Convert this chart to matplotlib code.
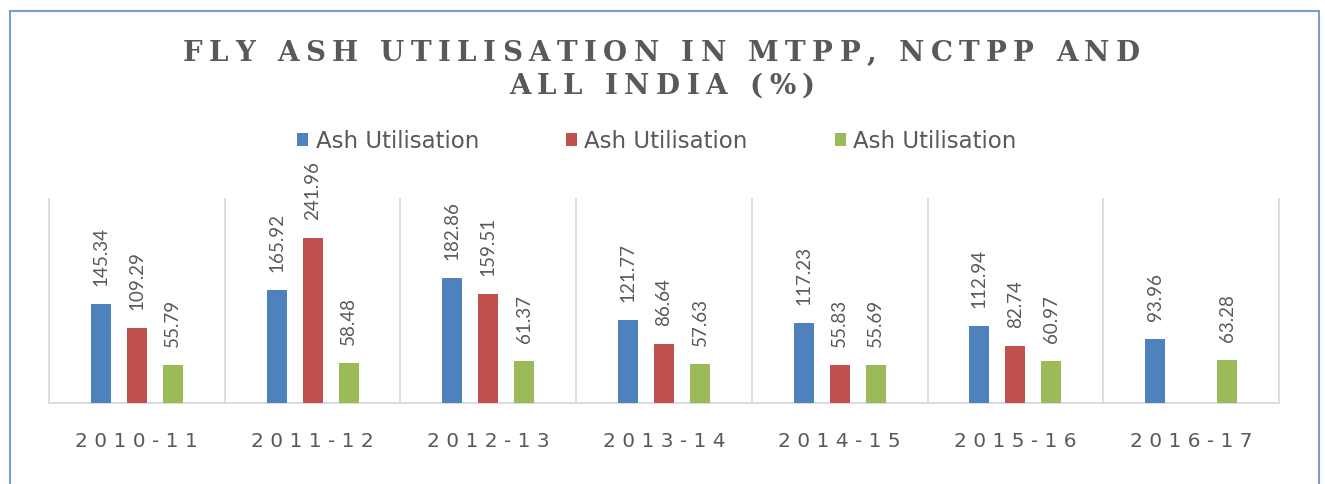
import numpy as np
import matplotlib
matplotlib.use('Agg')
import matplotlib.pyplot as plt
from matplotlib.patches import Rectangle
from matplotlib.font_manager import FontProperties, findfont
from matplotlib.ft2font import FT2Font

categories = ['2010-11', '2011-12', '2012-13', '2013-14', '2014-15', '2015-16', '2016-17']
mtpp = [145.34, 165.92, 182.86, 121.77, 117.23, 112.94, 93.96]
nctpp = [109.29, 241.96, 159.51, 86.64, 55.83, 82.74, np.nan]
all_india = [55.79, 58.48, 61.37, 57.63, 55.69, 60.97, 63.28]
series_labels = ['Ash Utilisation', 'Ash Utilisation', 'Ash Utilisation']
title_lines = ['FLY ASH UTILISATION IN MTPP, NCTPP AND', 'ALL INDIA (%)']
colors = ['#4F81BD', '#C0504D', '#9BBB59']

W, H = 1325, 484
DPI = 100
TXT = '#595959'
GRID = '#D9D9D9'

fig = plt.figure(figsize=(W / DPI, H / DPI), dpi=DPI)
ax = fig.add_axes([49 / W, 1 - 403 / H, (1279 - 49) / W, (403 - 198) / H])

x = np.arange(len(categories))
offsets = [-0.205, 0.0, 0.205]
width = 0.114
label_font = FontProperties(family='Lato', size=13.5)
handles = []
for vals, off, col, lab in zip([mtpp, nctpp, all_india], offsets, colors, series_labels):
    vals = np.asarray(vals, float)
    m = ~np.isnan(vals)
    bc = ax.bar(x[m] + off, vals[m], width, color=col, label=lab, zorder=3)
    handles.append(bc)
    ax.bar_label(bc, labels=[f'{v:.2f}' for v in vals[m]], rotation=90, padding=13,
                 color=TXT, fontproperties=label_font)

ax.set_xlim(-0.5, len(categories) - 0.5)
ax.set_ylim(0, 300)
ax.vlines(np.arange(len(categories) + 1) - 0.5, 0, 300, color=GRID, lw=1.3,
          clip_on=False, zorder=1)
for s in ['left', 'right', 'top']:
    ax.spines[s].set_visible(False)
ax.spines['bottom'].set_color(GRID)
ax.spines['bottom'].set_linewidth(1.3)
ax.set_yticks([])
ax.set_xticks(x)
ax.set_xticklabels([' '.join(c) for c in categories], color=TXT,
                   fontproperties=FontProperties(family='DejaVu Sans', size=14.5))
ax.tick_params(axis='x', length=0, pad=21)


def spaced_line(text, cx_px, baseline_px, tracking, prop, color):
    font = FT2Font(findfont(prop))
    font.set_size(prop.get_size_in_points(), DPI)
    advs = [font.load_char(ord(c)).linearHoriAdvance / 65536 for c in text]
    total = sum(advs) + tracking * (len(text) - 1)
    pos = cx_px - total / 2
    for c, a in zip(text, advs):
        if c != ' ':
            fig.text((pos + a / 2) / W, 1 - baseline_px / H, c, ha='center', va='baseline',
                     fontproperties=prop, color=color)
        pos += a + tracking


def line_advance(text, prop):
    font = FT2Font(findfont(prop))
    font.set_size(prop.get_size_in_points(), DPI)
    return sum(font.load_char(ord(c)).linearHoriAdvance / 65536 for c in text)


title_prop = FontProperties(family='DejaVu Serif', weight='bold', size=20)
target_w = 1140 - 183
trk = (target_w - line_advance(title_lines[0], title_prop)) / (len(title_lines[0]) - 1)
spaced_line(title_lines[0], 661.5, 61, trk, title_prop, TXT)
spaced_line(title_lines[1], 662, 94, trk, title_prop, TXT)

fig.legend(handles, series_labels, loc='center', bbox_to_anchor=(657 / W, 1 - 141 / H),
           ncol=3, frameon=False, prop=FontProperties(family='DejaVu Sans', size=16.5),
           handlelength=0.48, handleheight=0.48, handletextpad=0.32, columnspacing=3.8,
           labelcolor=TXT)

fig.patches.append(Rectangle((9.5 / W, -0.1), (1319 - 9.5) / W, 1 - 11 / H + 0.1,
                             transform=fig.transFigure, fill=False, edgecolor='#7A9FCF',
                             lw=1.5))

fig.savefig('out.png', dpi=DPI)
